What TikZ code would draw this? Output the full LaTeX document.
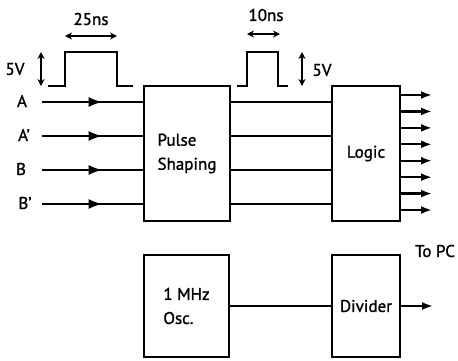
\documentclass[tikz,border=0pt]{standalone}
\usepackage{fontspec}
\setmainfont[FakeBold=1.3]{PT Sans}
\usetikzlibrary{arrows.meta,decorations.markings}
\tikzset{
  blk/.style={draw,line width=2.2pt,align=left,inner sep=2pt,font=\fontsize{17}{24}\selectfont},
  lbl/.style={font=\fontsize{17}{19}\selectfont,inner sep=0pt},
  wire/.style={line width=2.2pt},
  tip/.style={-{Latex[length=11pt,width=8pt]}},
  dim/.style={line width=1.8pt,{Stealth[length=7pt,width=7pt]}-{Stealth[length=7pt,width=7pt]}},
  midarrow/.style={postaction={decorate},decoration={markings,
    mark=at position 0.6 with {\arrow{Latex[length=14pt,width=10pt]}}}}
}
\begin{document}
\begin{tikzpicture}[x=1pt,y=-1pt]
\useasboundingbox (0,0) rectangle (458,360);
% blocks
\node[blk,minimum width=86pt,minimum height=135pt] (ps) at (187,153.5) {Pulse\\Shaping};
\node[blk,minimum width=68pt,minimum height=135pt] (lg) at (366,153.5) {Logic};
\node[blk,minimum width=85pt,minimum height=102pt] (osc) at (186.5,306) {1 MHz\\Osc.};
\node[blk,minimum width=68pt,minimum height=102pt,inner sep=0pt] (dv) at (366,306) {Divider};
% inputs
\node[lbl] (lA) at (22,101) {A};
\node[lbl] (lAp) at (24,135) {A’};
\node[lbl] (lB) at (21,169) {B};
\node[lbl] (lBp) at (25,203) {B’};
\foreach \n/\y in {A/102,Ap/136,B/170,Bp/204}{
  \coordinate (in\n) at (42,\y);
  \draw[wire,midarrow] (in\n) -- (ps.west |- in\n);
  \draw[wire] (ps.east |- in\n) -- (lg.west |- in\n);
}
% outputs of logic
\foreach \i in {0,...,7}{
  \coordinate (out\i) at (432,95+16.43*\i);
  \draw[wire,tip] (lg.east |- out\i) -- (out\i);
}
% clock chain
\draw[wire] (osc) -- (dv);
\coordinate (pc) at (433,306);
\draw[wire,tip] (dv.east) -- (pc);
\node[lbl] (topc) at (435,251) {To PC};
% input pulse
\draw[wire] (48,86) -- (65,86) -- (65,52) -- (117,52) -- (117,86) -- (133,86);
\coordinate (w1l) at (65,36);
\coordinate (w1r) at (117,36);
\draw[dim] (w1l) -- (w1r);
\node[lbl] (t25) at (91,19) {25ns};
\coordinate (h1t) at (41,52);
\coordinate (h1b) at (41,86);
\draw[dim] (h1t) -- (h1b);
\node[lbl] (v1) at (15,69) {5V};
% shaped pulse
\draw[wire] (237,86) -- (247,86) -- (247,52) -- (278,52) -- (278,86) -- (288,86);
\coordinate (w2l) at (247,34);
\coordinate (w2r) at (280,34);
\draw[dim] (w2l) -- (w2r);
\node[lbl] (t10) at (266,15) {10ns};
\coordinate (h2t) at (302,52);
\coordinate (h2b) at (302,86);
\draw[dim] (h2t) -- (h2b);
\node[lbl] (v2) at (322,70) {5V};
\end{tikzpicture}
\end{document}
